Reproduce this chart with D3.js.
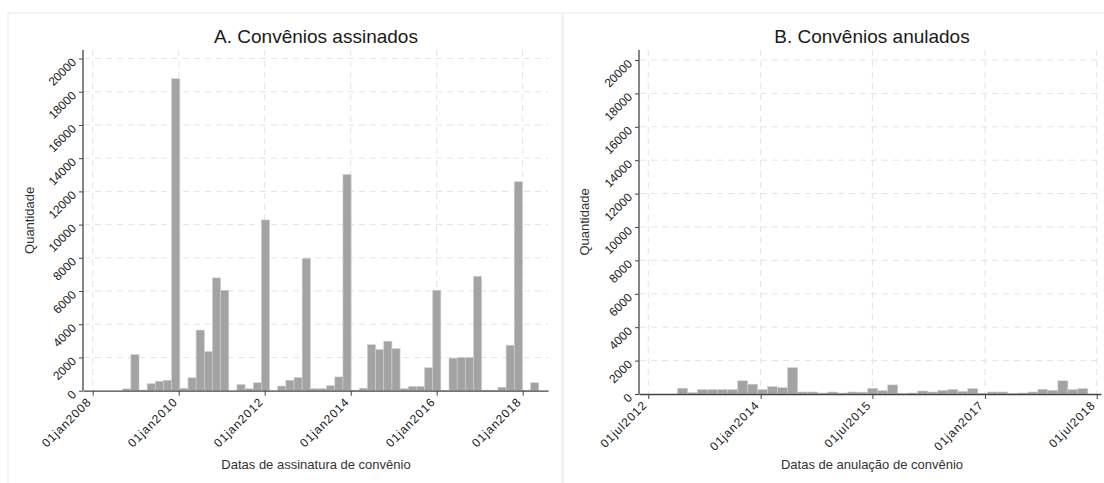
<!DOCTYPE html>
<html>
<head>
<meta charset="utf-8">
<script src="https://cdn.jsdelivr.net/npm/d3@7"></script>
<style>
  body { margin: 0; background: #fff; }
  svg { display: block; font-family: "Liberation Sans", Arial, sans-serif; }
</style>
</head>
<body>
<div id="chart"></div>
<script>
// histogram A: convênios assinados (bin start, bin width in days, counts)
const binStartA = "2008-09-12";
const binDaysA = 69.3;
const countsA = [110, 2170, 40, 420, 570, 630, 18780, 150, 780, 3650,
  2360, 6790, 6050, 0, 370, 120, 480, 10280, 0, 280,
  630, 790, 7960, 120, 120, 300, 830, 13020, 30, 150,
  2770, 2480, 2980, 2530, 120, 260, 260, 1380, 6050, 20,
  1960, 2000, 2000, 6890, 40, 20, 210, 2740, 12580, 30, 480];
const tickDatesA = ["2008-01-01", "2010-01-01", "2012-01-01", "2014-01-01", "2016-01-01", "2018-01-01"];
const tickLabelsA = ["01jan2008", "01jan2010", "01jan2012", "01jan2014", "01jan2016", "01jan2018"];

// histogram B: convênios anulados
const binStartB = "2012-11-21";
const binDaysB = 48.9;
const countsB = [343, 80, 262, 262, 262, 262, 790, 585, 262, 444,
  384, 1575, 120, 120, 60, 120, 60, 120, 110, 343,
  200, 545, 20, 60, 180, 120, 220, 280, 160, 320,
  40, 120, 120, 20, 60, 120, 280, 220, 790, 262, 320];
const tickDatesB = ["2012-07-01", "2014-01-01", "2015-07-01", "2017-01-01", "2018-07-01"];
const tickLabelsB = ["01jul2012", "01jan2014", "01jul2015", "01jan2017", "01jul2018"];

const yTicks = d3.range(0, 20001, 2000);

const W = 1104, H = 483;
const parse = d3.utcParse("%Y-%m-%d");

const svg = d3.select("#chart").append("svg")
  .attr("width", W)
  .attr("height", H)
  .attr("viewBox", [0, 0, W, H]);

function drawPanel(p) {
  // panel frame
  svg.append("rect")
    .attr("x", p.frame[0]).attr("y", p.frame[1])
    .attr("width", p.frame[2]).attr("height", p.frame[3])
    .attr("fill", "#fff")
    .attr("stroke", "#e6eded")
    .attr("stroke-width", 1.2);

  // anchor the time scale on two ticks, then extend it to the axis ends
  const x0 = d3.scaleUtc()
    .domain([parse(p.tickDates[0]), parse(p.tickDates[p.tickDates.length - 1])])
    .range(p.anchor);
  const x = d3.scaleUtc()
    .domain([x0.invert(p.left), x0.invert(p.right)])
    .range([p.left, p.right]);
  const y = d3.scaleLinear().domain([0, 20000]).range([p.base, p.top20k]);

  const g = svg.append("g");

  // grid
  g.append("g")
    .selectAll("line")
    .data(yTicks.filter(d => d > 0))
    .join("line")
      .attr("x1", p.left + 1).attr("x2", p.right)
      .attr("y1", d => y(d)).attr("y2", d => y(d))
      .attr("stroke", "#e4e4e4")
      .attr("stroke-dasharray", "6,5");
  g.append("g")
    .selectAll("line")
    .data(p.tickDates)
    .join("line")
      .attr("x1", d => x(parse(d))).attr("x2", d => x(parse(d)))
      .attr("y1", p.axisTop).attr("y2", p.base)
      .attr("stroke", "#e4e4e4")
      .attr("stroke-dasharray", "6,5");

  // bars
  const start = parse(p.binStart);
  const edge = i => new Date(start.getTime() + i * p.binDays * 864e5);
  g.append("g")
    .selectAll("rect")
    .data(p.counts)
    .join("rect")
      .attr("x", (d, i) => x(edge(i)))
      .attr("width", (d, i) => x(edge(i + 1)) - x(edge(i)))
      .attr("y", d => y(d))
      .attr("height", d => y(0) - y(d))
      .attr("fill", "#a3a3a3")
      .attr("stroke", "#cfcfcf")
      .attr("stroke-width", 0.6);

  // x axis
  const xAxis = g.append("g")
    .attr("transform", `translate(0,${p.base})`)
    .call(d3.axisBottom(x)
      .tickValues(p.tickDates.map(parse))
      .tickFormat((d, i) => p.tickLabels[i])
      .tickSize(5)
      .tickSizeOuter(0));
  xAxis.select(".domain").attr("stroke", "#444").attr("stroke-width", 1.3);
  xAxis.selectAll(".tick line").attr("stroke", "#444");
  xAxis.selectAll(".tick text")
    .attr("font-size", 12)
    .attr("fill", "#1a1a1a")
    .attr("letter-spacing", 0.9)
    .attr("text-anchor", "end")
    .attr("dy", null)
    .attr("y", null)
    .attr("transform", "translate(-1,12) rotate(-45)");

  // y axis
  const yAxis = g.append("g")
    .attr("transform", `translate(${p.left},0)`)
    .call(d3.axisLeft(y)
      .tickValues(yTicks)
      .tickFormat(d3.format("d"))
      .tickSize(4)
      .tickSizeOuter(0));
  yAxis.select(".domain")
    .attr("d", `M0,${p.axisTop}V${p.base}`)
    .attr("stroke", "#444").attr("stroke-width", 1.3);
  yAxis.selectAll(".tick line").attr("stroke", "#444");
  yAxis.selectAll(".tick text")
    .attr("font-size", 12)
    .attr("fill", "#1a1a1a")
    .attr("text-anchor", "end")
    .attr("dy", null)
    .attr("x", null)
    .attr("transform", "translate(-6,4) rotate(-45)");

  // titles
  svg.append("text")
    .attr("x", p.cx).attr("y", 43)
    .attr("text-anchor", "middle")
    .attr("font-size", 19)
    .attr("fill", "#1a1a1a")
    .text(p.title);
  svg.append("text")
    .attr("x", p.cx).attr("y", 469)
    .attr("text-anchor", "middle")
    .attr("font-size", 13)
    .attr("fill", "#333")
    .text(p.xTitle);
  svg.append("text")
    .attr("transform", `translate(${p.yTitleX},${(p.axisTop + p.base) / 2}) rotate(-90)`)
    .attr("text-anchor", "middle")
    .attr("font-size", 13)
    .attr("fill", "#333")
    .text("Quantidade");
}

drawPanel({
  frame: [8, 13, 554, 480],
  left: 83, right: 548, anchor: [92.7, 522.7],
  base: 390.7, top20k: 58.5, axisTop: 50,
  binStart: binStartA, binDays: binDaysA, counts: countsA,
  tickDates: tickDatesA, tickLabels: tickLabelsA,
  cx: 316, yTitleX: 34,
  title: "A. Convênios assinados",
  xTitle: "Datas de assinatura de convênio"
});

drawPanel({
  frame: [563, 13, 560, 480],
  left: 639, right: 1101, anchor: [648.3, 1096.7],
  base: 394, top20k: 60, axisTop: 50,
  binStart: binStartB, binDays: binDaysB, counts: countsB,
  tickDates: tickDatesB, tickLabels: tickLabelsB,
  cx: 872, yTitleX: 589,
  title: "B. Convênios anulados",
  xTitle: "Datas de anulação de convênio"
});
</script>
</body>
</html>
